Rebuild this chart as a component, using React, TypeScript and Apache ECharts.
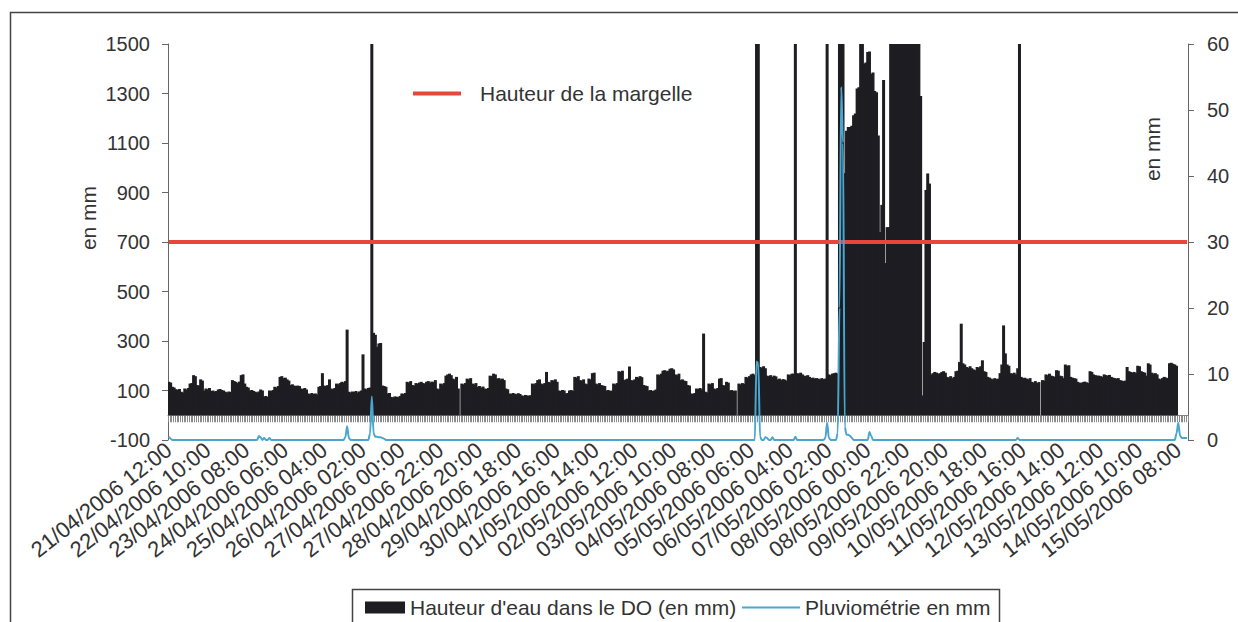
import React, { useEffect, useRef } from "react";
import * as echarts from "echarts";

const FONT = "'Liberation Sans', Arial, sans-serif";

// Hourly categories: 21/04/2006 12:00 -> 15/05/2006 13:00
const START_UTC = Date.UTC(2006, 3, 21, 12, 0);
const HOURS = 578;
const pad = (n: number) => (n < 10 ? "0" + n : "" + n);
const categories: string[] = [];
for (let i = 0; i < HOURS; i++) {
  const d = new Date(START_UTC + i * 3600000);
  categories.push(
    `${pad(d.getUTCDate())}/${pad(d.getUTCMonth() + 1)}/${d.getUTCFullYear()} ${pad(d.getUTCHours())}:00`
  );
}

// Hauteur d'eau dans le DO (mm), hourly; 1600 = beyond the axis top (clipped)
const hauteurA = [
  135, 132, 115, 112, 105, 103, 106, 95, 92, 108, 104, 110, 128, 130, 162, 158, 122, 120, 145, 140,
  100, 108, 105, 110, 98, 100, 96, 98, 104, 106, 102, 100, 95, 92, 96, 94, 142, 138, 135, 130,
  136, 162, 165, 128, 115, 112, 100, 102, 98, 95, 92, 96, 104, 100, 76, 78, 74, 100, 98, 102,
  115, 112, 118, 155, 158, 150, 152, 145, 140, 122, 125, 120, 118,
];
const hauteurB = [
  120, 118, 108, 106, 110, 104, 88, 85, 90, 86, 88, 84, 115, 118, 170, 120, 118, 122, 145, 108,
  105, 110, 128, 125, 130, 135, 132, 138, 346, 95, 92, 96, 94, 98, 92, 96, 100, 246, 108, 105,
  110, 112, 1600, 333, 325, 276, 290, 292, 120, 118, 115, 88, 90, 74, 72, 76, 75, 73, 78, 88,
  86, 90, 135, 132, 138, 122, 120, 130, 128, 132, 135, 130, 128,
];
const hauteurC = [
  135, 138, 132, 136, 134, 142, 108, 105, 128, 125, 130, 160, 165, 168, 162, 148, 145, 155, 108, null,
  128, 125, 130, 148, 145, 150, 128, 125, 130, 115, 118, 112, 116, 108, 106, 110, 160, 158, 168, 165,
  148, 150, 145, 148, 142, 108, 105, 88, 86, 90, 87, 85, 89, 86, 80, 78, 82, 80, 79, 81,
  128, 125, 130, 142, 145, 128, 125, 130, 175, 135, 132, 142, 140, 145,
];
const hauteurD = [
  135, 100, 98, 102, 100, 88, 90, 100, 102, 98, 155, 152, 158, 142, 140, 145, 128, 125, 148, 145,
  170, 172, 128, 125, 130, 122, 120, 118, 100, 102, 98, 100, 128, 125, 130, 178, 175, 180, 142, 145,
  148, 197, 142, 140, 145, 155, 152, 158, 154, 122, 120, 118, 100, 102, 98, 100, 104, 165, 162, 168,
  180, 182, 178, 180, 188, 190, 185, 165, 162, 168, 142, 145, 140, 138,
];
const hauteurE = [
  122, 120, 88, 86, 90, 108, 106, 110, 105, 330, 95, 92, 128, 125, 130, 108, 105, 110, 148, 150,
  122, 120, 135, 132, 100, 102, 98, 100, null, 128, 125, 130, 127, 155, 152, 158, 165, 168, 162, 1600,
  1600, 195, 192, 198, 190, 160, 158, 162, 155, 160, 157, 145, 148, 142, 146, 144, 140, 165, 162, 168,
  168, 1600, 170, 168, 172, 165, 160, 158, 162, 155, 150, 152, 148, 150,
];
const hauteurF = [
  148, 145, 150, 146, 148, 1600, 165, 162, 168, 170, 172, 168, 1600, 1600, 1600, 978, 1150, 1165, 1165, 1170,
  1212, 1219, 1320, 1325, 1600, 1600, 1421, 1425, 1468, 1470, 1380, 1385, 1310, 1305, 1130, 740, 850, 1355, 615, 760,
  760, 1600, 1600, 1600, 1600, 1600, 1600, 1600, 1600, 1600, 1600, 1600, 1600, 1600, 1600, 1600, 1600, 1600, 1290, 80,
  296, 910, 977, 936, 165, 170, 175, 172, 168, 170, 175, 178, 172,
];
const hauteurG = [
  155, 152, 158, 150, 155, 178, 180, 215, 370, 210, 205, 195, 192, 198, 190, 185, 182, 195, 192, 198,
  222, 178, 175, 155, 152, 148, 145, 150, 146, 148, 170, 205, 363, 250, 205, 200, 170, 168, 172, 165,
  190, 1600, 155, 150, 152, 148, 145, 150, 135, 132, 138, 130, 134, null, 142, 140, 165, 162, 168, 160,
  158, 155, 182, 180, 160, 158, 150, 205, 200, 202, 155, 152, 150, 148,
];
const hauteurH = [
  135, 132, 130, 134, 136, 133, 130, 178, 175, 165, 162, 160, 160, 158, 155, 165, 162, 160, 163, 155,
  152, 150, 148, 150, 142, 140, 138, 140, 195, 178, 175, 172, 175, 170, 200, 198, 178, 175, 172, 160,
  210, 205, 172, 168, 170, 165, 148, 145, 150, 155, 152, 150, 210, 212, 208, 205, 200,
  null, null, null, null, null, null,
];
const hauteur = [
  ...hauteurA, ...hauteurB, ...hauteurC, ...hauteurD,
  ...hauteurE, ...hauteurF, ...hauteurG, ...hauteurH,
];

// Pluviométrie (mm): hours with rain [index, value]; all other hours are 0
const pluieEvents: [number, number][] = [
  [0, 0.5], [1, 0.2], [51, 0.6], [52, 0.4], [54, 0.3], [57, 0.3],
  [100, 0.4], [101, 2.1], [102, 0.3],
  [114, 1.0], [115, 6.6], [116, 1.0], [117, 0.5], [118, 0.5], [119, 0.4], [120, 0.4], [121, 0.3], [122, 0.2],
  [333, 11.9], [334, 11.5], [335, 0.5], [338, 0.4], [339, 0.3], [342, 0.4], [355, 0.5],
  [372, 0.3], [373, 2.6], [374, 0.3],
  [379, 1.0], [380, 20], [381, 53.5], [382, 45], [383, 2], [384, 0.8], [385, 0.8], [386, 0.6], [387, 0.3],
  [397, 1.2], [398, 0.6], [481, 0.3],
  [571, 1.0], [572, 2.6], [573, 0.6], [574, 0.3], [575, 0.3], [576, 0.3], [577, 0.3],
];
const pluie: number[] = categories.map(() => 0);
pluieEvents.forEach(([i, v]) => { pluie[i] = v; });

const MARGELLE = 700;
const margelle = categories.map(() => MARGELLE);

const NAME_H = "Hauteur d'eau dans le DO (en mm)";
const NAME_P = "Pluviométrie en mm";
const NAME_M = "Hauteur de la margelle";

export default function App() {
  const ref = useRef<HTMLDivElement>(null);
  useEffect(() => {
    if (!ref.current) return;
    const chart = echarts.init(ref.current, undefined, { renderer: "svg" });
    const txt = { fontFamily: FONT, fontSize: 20, color: "#333" };
    const txt21 = { fontFamily: FONT, fontSize: 21, color: "#333" };
    const plain = (v: number) => String(v);
    chart.setOption({
      animation: false,
      backgroundColor: "#ffffff",
      textStyle: { fontFamily: FONT },
      grid: { left: 168, right: 50, top: 44, bottom: 182 },
      legend: [
        {
          data: [{ name: NAME_M, icon: "rect" }],
          left: 408, top: 78, itemWidth: 48, itemHeight: 4, selectedMode: false,
          textStyle: { ...txt21, padding: [0, 0, 0, 14] },
        },
        {
          data: [{ name: NAME_H, icon: "rect" }],
          left: 360, top: 592, itemWidth: 40, itemHeight: 12, selectedMode: false,
          textStyle: txt21,
        },
        {
          data: [{ name: NAME_P, icon: "rect" }],
          left: 737, top: 592, itemWidth: 58, itemHeight: 2, selectedMode: false,
          textStyle: txt21,
        },
      ],
      xAxis: [
        {
          type: "category", data: categories, boundaryGap: true,
          axisLine: { show: true, onZero: true, onZeroAxisIndex: 0, lineStyle: { color: "#808080", width: 1 } },
          axisTick: { show: true, interval: 0, length: 7, lineStyle: { color: "#8a8a8a", width: 1 } },
          axisLabel: { show: false }, splitLine: { show: false },
        },
        {
          type: "category", data: categories, boundaryGap: true, position: "bottom",
          axisLine: { show: false, onZero: false }, axisTick: { show: false },
          axisLabel: { interval: 21, rotate: 38, margin: 7, fontFamily: FONT, fontSize: 22, color: "#333", hideOverlap: false },
          splitLine: { show: false },
        },
      ],
      yAxis: [
        {
          type: "value", min: -100, max: 1500, interval: 200, position: "left",
          axisLine: { show: true, lineStyle: { color: "#666", width: 1 } },
          axisTick: { show: true, length: 6, lineStyle: { color: "#666" } },
          axisLabel: { margin: 18, formatter: plain, ...txt }, splitLine: { show: false },
        },
        {
          type: "value", min: 0, max: 60, interval: 10, position: "right",
          axisLine: { show: true, lineStyle: { color: "#666", width: 1 } },
          axisTick: { show: true, length: 6, lineStyle: { color: "#666" } },
          axisLabel: { margin: 19, formatter: plain, ...txt }, splitLine: { show: false },
        },
      ],
      series: [
        {
          name: NAME_H, type: "bar", data: hauteur, xAxisIndex: 0, yAxisIndex: 0,
          barWidth: 3, clip: true,
          itemStyle: { color: "#1d1d22" },
          z: 2,
        },
        {
          name: NAME_M, type: "line", data: margelle, xAxisIndex: 0, yAxisIndex: 0,
          symbol: "none", lineStyle: { color: "#e8463a", width: 4 }, itemStyle: { color: "#e8463a" },
          z: 3,
        },
        {
          name: NAME_P, type: "line", data: pluie, xAxisIndex: 0, yAxisIndex: 1,
          symbol: "none", smooth: 0.3, smoothMonotone: "x",
          lineStyle: { color: "#4aa6cf", width: 2 }, itemStyle: { color: "#4aa6cf" },
          z: 4,
        },
      ],
      graphic: [
        {
          type: "rect", left: 8, top: 10, silent: true,
          shape: { width: 1240, height: 640 },
          style: { fill: "none", stroke: "#444", lineWidth: 1.5 },
        },
        {
          type: "rect", left: 350, top: 587, silent: true,
          shape: { width: 647, height: 40 },
          style: { fill: "none", stroke: "#444", lineWidth: 1.5 },
        },
        {
          type: "text", x: 88, y: 218, rotation: Math.PI / 2, silent: true,
          style: { text: "en mm", font: `21px ${FONT}`, fill: "#333", align: "center", verticalAlign: "middle" },
        },
        {
          type: "text", x: 1152, y: 149, rotation: Math.PI / 2, silent: true,
          style: { text: "en mm", font: `21px ${FONT}`, fill: "#333", align: "center", verticalAlign: "middle" },
        },
      ],
    });
    return () => chart.dispose();
  }, []);
  return (
    <div
      ref={ref}
      style={{ position: "absolute", left: 0, top: 0, width: 1238, height: 622 }}
    />
  );
}
